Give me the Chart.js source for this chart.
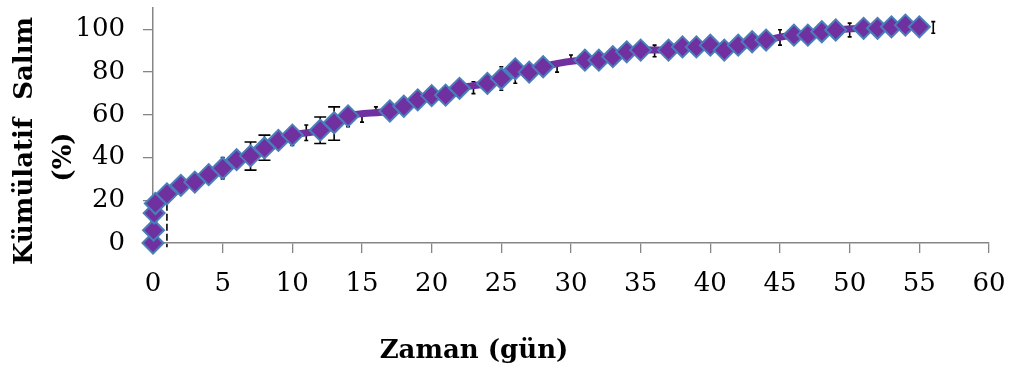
<!DOCTYPE html>
<html><head><meta charset="utf-8">
<script src="https://cdn.jsdelivr.net/npm/chart.js@4"></script>
<style>html,body{margin:0;padding:0;background:#fff;}#wrap{width:1010px;height:370px;}</style>
</head><body><div id="wrap"><canvas id="c" width="1010" height="370"></canvas></div>
<script>
// ---- data ----
const days = [0, 0.04, 0.08, 0.17, 1, 2, 3, 4, 5, 6, 7, 8, 9, 10, 12, 13, 14, 17, 18, 19, 20, 21, 22, 24, 25, 26, 27, 28, 31, 32, 33, 34, 35, 37, 38, 39, 40, 41, 42, 43, 44, 46, 47, 48, 49, 51, 52, 53, 54, 55];
const release = [0, 6, 14, 18.5, 23, 27, 28.5, 32, 35, 39, 40.8, 44.5, 48, 50.5, 52.8, 56.3, 59.5, 61.8, 64, 67, 69, 69.2, 72.4, 74.7, 77, 81.5, 80, 82.5, 85.6, 85.6, 87.2, 89.5, 90.3, 90.3, 91.8, 91.8, 92.6, 90.3, 92.6, 94.2, 95, 97.3, 97.3, 98.9, 99.7, 100.5, 100.5, 101.2, 102, 101.2];
const errDays  = [1, 2, 4, 5, 6, 7, 8, 9, 10, 11, 12, 13, 14, 15, 16, 23, 25, 26, 29, 30, 36, 45, 50, 56];
const errMean  = [23, 27, 32, 35, 39, 40.7, 44.6, 48, 50, 51.6, 52.8, 55.9, 59, 59, 62.5, 72.7, 77, 80, 81.5, 86.8, 89.9, 96.2, 99.7, 100.9];
const errPlus  = [0, 3, 4, 5, 4, 6.6, 5.9, 3, 4.3, 3.6, 6.2, 7.8, 4.6, 2.4, 1.2, 2.8, 5.5, 5.2, 1.5, 1.2, 2.7, 3.6, 3.2, 2.7];
const errMinus = [25, 3, 4, 5, 4, 6.6, 5.9, 3, 4.3, 3.6, 6.2, 7.8, 4.6, 2.4, 1.2, 2.8, 5.5, 5.2, 1.5, 1.2, 2.7, 3.6, 3.2, 2.7];
const xTickValues = [0, 5, 10, 15, 20, 25, 30, 35, 40, 45, 50, 55, 60];
const yTickValues = [0, 20, 40, 60, 80, 100];
const xTitle = 'Zaman (gün)';
const yTitle = ['Kümülatif  Salım', '(%)'];

// ---- styles ----
const PURPLE = '#7030A0';
const MARKER_EDGE = '#4A7EBB';
const AXIS = '#868686';
const TICK_FONT = {family: 'DejaVu Serif', size: 26};
const TITLE_FONT = 'bold 26px "DejaVu Serif"';

const errorBars = {
  id: 'errorBars',
  beforeDatasetsDraw(chart) {
    const {ctx, scales: {x, y}} = chart;
    ctx.save();
    ctx.strokeStyle = '#000';
    ctx.lineWidth = 1.6;
    errDays.forEach((d, i) => {
      const px = x.getPixelForValue(d);
      const top = y.getPixelForValue(errMean[i] + errPlus[i]);
      const bot = y.getPixelForValue(errMean[i] - errMinus[i]);
      const dashed = errPlus[i] === 0;
      ctx.setLineDash(dashed ? [7, 3] : []);
      ctx.beginPath(); ctx.moveTo(px, top); ctx.lineTo(px, bot); ctx.stroke();
      ctx.setLineDash([]);
      if (!dashed) {
        const cap = (errPlus[i] + errMinus[i]) >= 11.5 ? 6 : 2;
        ctx.beginPath();
        ctx.moveTo(px - cap, top); ctx.lineTo(px + cap, top);
        ctx.moveTo(px - cap, bot); ctx.lineTo(px + cap, bot);
        ctx.stroke();
      }
    });
    ctx.restore();
  }
};

const axisTitles = {
  id: 'axisTitles',
  afterDraw(chart) {
    const {ctx} = chart;
    ctx.save();
    ctx.fillStyle = '#000';
    ctx.font = TITLE_FONT;
    ctx.textAlign = 'center';
    ctx.textBaseline = 'alphabetic';
    ctx.fillText(xTitle, 474, 358);
    const ys = [[32, 141], [71, 157]];
    yTitle.forEach((t, i) => {
      ctx.save();
      ctx.translate(ys[i][0], ys[i][1]);
      ctx.rotate(-Math.PI / 2);
      ctx.fillText(t, 0, 0);
      ctx.restore();
    });
    ctx.restore();
  }
};

new Chart(document.getElementById('c'), {
  type: 'scatter',
  data: {
    datasets: [{
      data: days.map((d, i) => ({x: d, y: release[i]})),
      showLine: true,
      borderColor: PURPLE,
      borderWidth: 7,
      cubicInterpolationMode: 'monotone',
      pointStyle: 'rectRot',
      pointRadius: 10.5,
      pointHoverRadius: 10.5,
      pointBackgroundColor: PURPLE,
      pointBorderColor: MARKER_EDGE,
      pointBorderWidth: 2,
      clip: false
    }]
  },
  options: {
    responsive: false,
    animation: false,
    devicePixelRatio: 1,
    layout: {autoPadding: false, padding: {left: 0, right: 21, top: 8, bottom: 0}},
    plugins: {legend: {display: false}, tooltip: {enabled: false}},
    scales: {
      x: {
        type: 'linear', min: 0, max: 60,
        afterBuildTicks: s => { s.ticks = xTickValues.map(v => ({value: v})); },
        afterFit: s => { s.height = 127; s.paddingLeft = 0; s.paddingRight = 0; },
        ticks: {font: TICK_FONT, color: '#000', padding: 16, maxRotation: 0, autoSkip: false},
        grid: {drawOnChartArea: false, drawTicks: true, tickLength: 10, color: AXIS, lineWidth: 1.3},
        border: {color: AXIS, width: 1.5}
      },
      y: {
        type: 'linear', min: 0, max: 110,
        afterBuildTicks: s => { s.ticks = yTickValues.map(v => ({value: v})); },
        afterFit: s => { s.width = 153; s.paddingTop = 0; s.paddingBottom = 0; },
        ticks: {font: TICK_FONT, color: '#000', padding: 18, autoSkip: false},
        grid: {drawOnChartArea: false, drawTicks: true, tickLength: 10, color: AXIS, lineWidth: 1.3},
        border: {color: AXIS, width: 1.5}
      }
    }
  },
  plugins: [errorBars, axisTitles]
});
</script>
</body></html>
